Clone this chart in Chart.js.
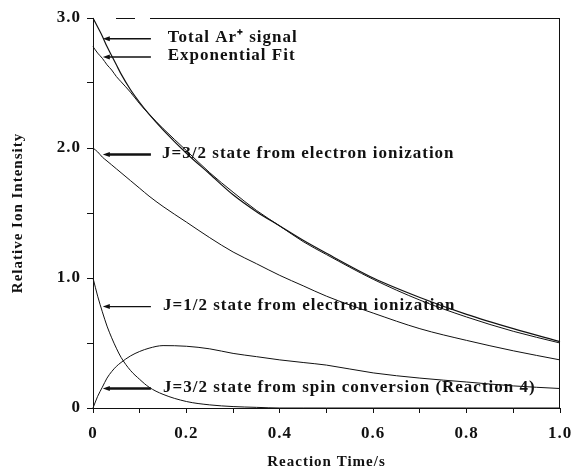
<!DOCTYPE html>
<html>
<head>
<meta charset="utf-8">
<script src="https://cdn.jsdelivr.net/npm/chart.js@4/dist/chart.umd.min.js"></script>
<style>
  html, body { margin: 0; padding: 0; background: #fff; }
  canvas { display: block; }
</style>
</head>
<body>
<canvas id="c" width="575" height="473"></canvas>
<script>
// Reaction time (s) at which each signal is sampled
const times = [0, 0.01, 0.02, 0.03, 0.04, 0.05, 0.06, 0.08, 0.10, 0.12, 0.15, 0.20, 0.25, 0.30, 0.35, 0.40, 0.45, 0.50, 0.60, 0.70, 0.80, 0.90, 1.00];

// Relative ion intensities
const totalSignal = [3.0, 2.93, 2.86, 2.78, 2.71, 2.64, 2.57, 2.45, 2.35, 2.26, 2.14, 1.96, 1.80, 1.64, 1.51, 1.40, 1.29, 1.19, 1.00, 0.85, 0.72, 0.61, 0.51];
const expFit      = [2.78, 2.73, 2.69, 2.64, 2.60, 2.55, 2.51, 2.43, 2.34, 2.26, 2.15, 1.98, 1.81, 1.66, 1.52, 1.40, 1.28, 1.18, 0.99, 0.83, 0.70, 0.59, 0.50];
const j32Electron = [2.0, 1.97, 1.93, 1.90, 1.87, 1.84, 1.81, 1.75, 1.69, 1.63, 1.55, 1.43, 1.31, 1.20, 1.11, 1.02, 0.94, 0.86, 0.73, 0.61, 0.52, 0.44, 0.37];
const j12Electron = [1.0, 0.86, 0.74, 0.63, 0.54, 0.46, 0.39, 0.29, 0.22, 0.16, 0.105, 0.05, 0.024, 0.011, 0.005, 0, 0, 0, 0, 0, 0, 0, 0];
const j32Spin     = [0, 0.09, 0.16, 0.23, 0.28, 0.32, 0.35, 0.40, 0.435, 0.46, 0.48, 0.475, 0.455, 0.42, 0.395, 0.37, 0.35, 0.33, 0.27, 0.23, 0.20, 0.17, 0.15];

// Callout labels and the intensity level each one sits at
const calloutTexts  = ['Total Ar\u207A signal', 'Exponential Fit', 'J=3/2 state from electron ionization', 'J=1/2 state from electron ionization', 'J=3/2 state from spin conversion (Reaction 4)'];
const calloutLevels = [2.84, 2.70, 1.95, 0.78, 0.15];

const SERIF = '"Liberation Serif", "Times New Roman", serif';
const INK = '#111';

function pts(ys) { return times.map((t, i) => ({ x: t, y: ys[i] })); }

function curve(label, ys, width) {
  return {
    label, data: pts(ys), showLine: true, pointRadius: 0,
    borderColor: INK, borderWidth: width, cubicInterpolationMode: 'monotone',
    fill: false, clip: 6
  };
}

// Slightly spaced lettering for all chart text
const spacing = {
  id: 'spacing',
  beforeDraw(chart) { chart.ctx.letterSpacing = '1px'; }
};

// Right and top edges of the plot frame
const frame = {
  id: 'frame',
  afterDraw(chart) {
    const ctx = chart.ctx;
    const a = chart.chartArea;
    const px = v => chart.scales.x.getPixelForValue(v);
    const L = Math.round(a.left), R = Math.round(a.right);
    const T = Math.round(a.top), B = Math.round(a.bottom);
    ctx.save();
    ctx.setLineDash([]);
    ctx.globalAlpha = 1;
    ctx.fillStyle = INK;
    ctx.fillRect(R - 1, T, 1, B - T);
    ctx.fillRect(Math.round(px(0.122)), T, R - Math.round(px(0.122)), 1);
    ctx.fillRect(Math.round(px(0.049)), T, Math.round(px(0.091)) - Math.round(px(0.049)), 1);
    ctx.restore();
  }
};

// Arrowed callouts pointing at the curves
const callouts = {
  id: 'callouts',
  afterDraw(chart) {
    const ctx = chart.ctx;
    const px = v => chart.scales.x.getPixelForValue(v);
    const py = v => chart.scales.y.getPixelForValue(v);
    const widths = [1.5, 1.5, 2.6, 1.3, 2.6];
    const textX = [0.16, 0.16, 0.148, 0.15, 0.15];
    ctx.save();
    ctx.strokeStyle = INK;
    ctx.fillStyle = INK;
    ctx.font = 'bold 17px ' + SERIF;
    ctx.letterSpacing = '1px';
    ctx.textBaseline = 'middle';
    ctx.textAlign = 'left';
    calloutTexts.forEach((txt, i) => {
      const yy = py(calloutLevels[i]);
      const x0 = px(0.021);
      const x1 = px(0.124);
      ctx.lineWidth = widths[i];
      ctx.beginPath();
      ctx.moveTo(x0 + 4, yy);
      ctx.lineTo(x1, yy);
      ctx.stroke();
      ctx.beginPath();
      ctx.moveTo(x0, yy);
      ctx.lineTo(x0 + 7, yy - 2.5);
      ctx.lineTo(x0 + 7, yy + 2.5);
      ctx.closePath();
      ctx.fill();
      ctx.fillText(txt, px(textX[i]), yy - 1);
    });
    ctx.restore();
  }
};

new Chart(document.getElementById('c'), {
  type: 'scatter',
  data: {
    datasets: [
      curve('Total Ar+ signal', totalSignal, 1.2),
      curve('Exponential Fit', expFit, 1),
      curve('J=3/2 state from electron ionization', j32Electron, 1),
      curve('J=1/2 state from electron ionization', j12Electron, 1),
      curve('J=3/2 state from spin conversion (Reaction 4)', j32Spin, 1)
    ]
  },
  options: {
    responsive: false,
    animation: false,
    devicePixelRatio: 1,
    layout: { padding: { top: 18, right: 15, bottom: 0, left: 0 } },
    plugins: { legend: { display: false }, tooltip: { enabled: false } },
    scales: {
      x: {
        type: 'linear', position: 'bottom', min: 0, max: 1.0,
        afterFit(s) { s.height = 65; s.paddingLeft = 0; s.paddingRight = 0; },
        border: { display: true, color: INK, width: 1 },
        grid: { drawOnChartArea: false, drawTicks: true, tickLength: 5, color: INK },
        ticks: {
          stepSize: 0.1, color: INK, padding: 10, maxRotation: 0, autoSkip: false,
          font: { family: SERIF, size: 17, weight: 'bold' },
          callback(v) {
            const k = Math.round(v * 10);
            if (k % 2) return '';
            return k === 0 ? '0' : (k / 10).toFixed(1);
          }
        },
        title: {
          display: true, text: 'Reaction Time/s', color: INK,
          font: { family: SERIF, size: 15, weight: 'bold' },
          padding: { top: 0, bottom: 2 }
        }
      },
      y: {
        type: 'linear', position: 'left', min: 0, max: 3.0,
        afterFit(s) { s.width = 93; s.paddingTop = 0; s.paddingBottom = 0; },
        border: { display: true, color: INK, width: 1 },
        grid: { drawOnChartArea: false, drawTicks: true, tickLength: 6, color: INK },
        ticks: {
          stepSize: 0.5, color: INK, padding: 6, autoSkip: false,
          font: { family: SERIF, size: 17, weight: 'bold' },
          callback(v) {
            if (Math.abs(v - Math.round(v)) > 1e-6) return '';
            return v === 0 ? '0' : v.toFixed(1);
          }
        },
        title: {
          display: true, text: 'Relative Ion Intensity', color: INK,
          font: { family: SERIF, size: 15, weight: 'bold' },
          padding: { top: 9, bottom: 0 }
        }
      }
    }
  },
  plugins: [spacing, frame, callouts]
});
</script>
</body>
</html>
